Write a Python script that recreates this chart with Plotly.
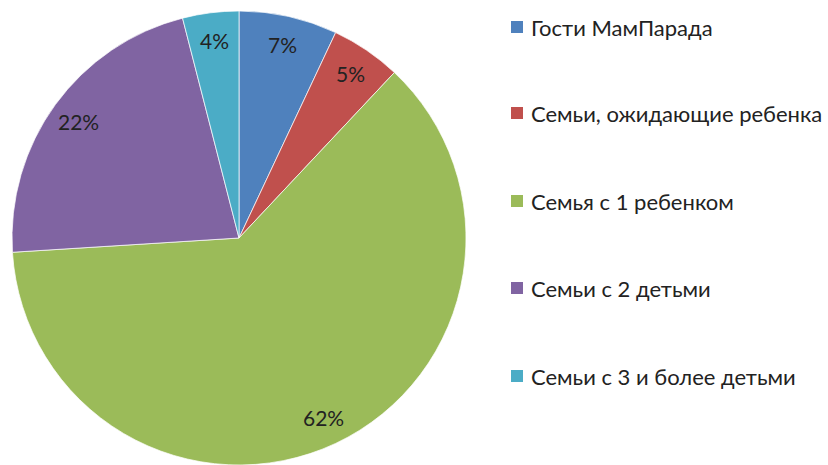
import math
import plotly.graph_objects as go

labels = ["Гости МамПарада", "Семьи, ожидающие ребенка", "Семья с 1 ребенком",
          "Семьи с 2 детьми", "Семьи с 3 и более детьми"]
values = [7, 5, 62, 22, 4]
colors = ["#4F81BD", "#C0504D", "#9BBB59", "#8064A2", "#4BACC6"]

W, H = 828, 465
FONT = "Lato"

fig = go.Figure(go.Pie(
    labels=labels, values=values, sort=False, direction="clockwise", rotation=0,
    marker=dict(colors=colors, line=dict(color="rgba(255,255,255,0.7)", width=1)),
    textinfo="none", hoverinfo="label+percent", showlegend=False,
    domain=dict(x=[10 / W, 468 / W], y=[0, 1 - 11 / H]),
))

# pie geometry (pixels) for label placement
cx, cy = 239, 238
r = 227
total = sum(values)
cum = 0
annotations = []
for v in values:
    mid = (cum + v / 2) / total * 2 * math.pi
    cum += v
    f = 0.875
    px = cx + f * r * math.sin(mid)
    py = cy - f * r * math.cos(mid)
    annotations.append(dict(
        x=px / W, y=1 - py / H, xref="paper", yref="paper",
        text=f"{round(v / total * 100)}%", showarrow=False,
        font=dict(family=FONT, size=21, color="#222222"),
        xanchor="center", yanchor="middle"))

# manual legend
shapes = []
leg_y = [27, 113, 201, 288, 376]
for i, (lab, col) in enumerate(zip(labels, colors)):
    y = leg_y[i]
    shapes.append(dict(type="rect", xref="paper", yref="paper",
                       x0=511 / W, x1=523 / W, y0=1 - (y - 6) / H, y1=1 - (y + 6) / H,
                       fillcolor=col, line=dict(width=0)))
    annotations.append(dict(
        x=529 / W, y=1 - y / H, xref="paper", yref="paper", text=lab, showarrow=False,
        font=dict(family=FONT, size=22, color="#222222"),
        xanchor="left", yanchor="middle"))

fig.update_layout(
    width=W, height=H, margin=dict(l=0, r=0, t=0, b=0),
    paper_bgcolor="white", plot_bgcolor="white",
    annotations=annotations, shapes=shapes,
)

fig.write_html("out.html")
